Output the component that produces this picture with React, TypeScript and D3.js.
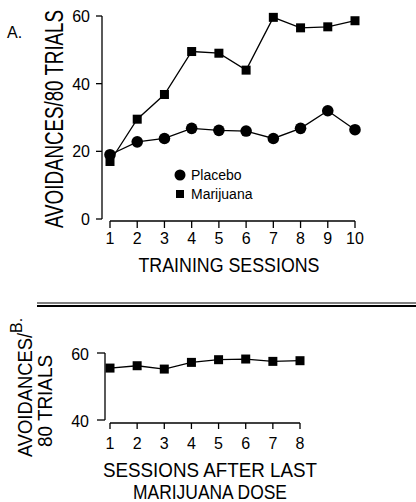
import * as d3 from "d3";

const sessionsA = [1, 2, 3, 4, 5, 6, 7, 8, 9, 10];
const placebo = [19, 22.8, 23.8, 26.8, 26.2, 26, 23.8, 26.8, 32, 26.4];
const marijuana = [17, 29.5, 36.8, 49.5, 49, 44, 59.6, 56.5, 56.8, 58.6];
const yTicksA = [0, 20, 40, 60];

const sessionsB = [1, 2, 3, 4, 5, 6, 7, 8];
const afterDose = [55.5, 56.2, 55.2, 57.2, 58, 58.2, 57.5, 57.7];
const yTicksB = [40, 60];

const font = "'Liberation Sans', Arial, sans-serif";

const App = () => {
  const xA = d3.scaleLinear().domain([1, 10]).range([110, 355]);
  const yA = d3.scaleLinear().domain([0, 60]).range([219, 16]);
  const xB = d3.scaleLinear().domain([1, 8]).range([110, 300]);
  const yB = d3.scaleLinear().domain([40, 60]).range([420, 353]);

  const lineA = (vals: number[]) =>
    d3.line<number>().x((_, i) => xA(sessionsA[i])).y((d) => yA(d))(vals) || "";
  const lineB =
    d3.line<number>().x((_, i) => xB(sessionsB[i])).y((d) => yB(d))(afterDose) || "";

  const sq = 9;

  return (
    <svg width={416} height={502} style={{ position: "absolute", left: 0, top: 0 }} fontFamily={font}>
      <rect width={416} height={502} fill="white" />

      {/* panel A */}
      <text x={7} y={38} fontSize={16}>A.</text>
      <text
        transform="translate(63,119) rotate(-90) scale(1,1.4)"
        textAnchor="middle"
        fontSize={18}
        textLength={218}
        lengthAdjust="spacingAndGlyphs"
      >
        AVOIDANCES/80 TRIALS
      </text>

      <line x1={102} x2={102} y1={yA(60)} y2={yA(0)} stroke="black" strokeWidth={1.3} />
      {yTicksA.map((t) => (
        <g key={t}>
          <line x1={96} x2={102} y1={yA(t)} y2={yA(t)} stroke="black" strokeWidth={1.3} />
          <text x={90} y={yA(t) + 6} textAnchor="end" fontSize={16}>{t}</text>
        </g>
      ))}

      <line x1={xA(1)} x2={xA(10)} y1={221} y2={221} stroke="black" strokeWidth={1.3} />
      {sessionsA.map((s) => (
        <g key={s}>
          <line x1={xA(s)} x2={xA(s)} y1={221} y2={228} stroke="black" strokeWidth={1.3} />
          <text x={xA(s)} y={244} textAnchor="middle" fontSize={16}>{s}</text>
        </g>
      ))}
      <text x={229} y={272} textAnchor="middle" fontSize={20} textLength={181} lengthAdjust="spacingAndGlyphs">
        TRAINING SESSIONS
      </text>

      <path d={lineA(placebo)} fill="none" stroke="black" strokeWidth={1.3} />
      <path d={lineA(marijuana)} fill="none" stroke="black" strokeWidth={1.3} />
      {placebo.map((v, i) => (
        <circle key={"p" + i} cx={xA(sessionsA[i])} cy={yA(v)} r={5.8} fill="black" />
      ))}
      {marijuana.map((v, i) => (
        <rect key={"m" + i} x={xA(sessionsA[i]) - sq / 2} y={yA(v) - sq / 2} width={sq} height={sq} fill="black" />
      ))}

      <circle cx={180} cy={175} r={5.5} fill="black" />
      <text x={191} y={180} fontSize={14}>Placebo</text>
      <rect x={176} y={190} width={8} height={8} fill="black" />
      <text x={191} y={199} fontSize={14}>Marijuana</text>

      {/* separator */}
      <line x1={37} x2={416} y1={303} y2={303} stroke="black" strokeWidth={1} />
      <line x1={37} x2={416} y1={306} y2={306} stroke="black" strokeWidth={2} />

      {/* panel B */}
      <text transform="translate(22,333) rotate(-90)" fontSize={16}>B.</text>
      <text
        transform="translate(32,395) rotate(-90)"
        textAnchor="middle"
        fontSize={21}
        textLength={124}
        lengthAdjust="spacingAndGlyphs"
      >
        AVOIDANCES/
      </text>
      <text
        transform="translate(52,401) rotate(-90)"
        textAnchor="middle"
        fontSize={21}
        textLength={92}
        lengthAdjust="spacingAndGlyphs"
      >
        80 TRIALS
      </text>

      <line x1={105} x2={105} y1={yB(60)} y2={yB(40)} stroke="black" strokeWidth={1.3} />
      {yTicksB.map((t) => (
        <g key={t}>
          <line x1={97} x2={105} y1={yB(t)} y2={yB(t)} stroke="black" strokeWidth={1.3} />
          <text x={89} y={yB(t) + 7} textAnchor="end" fontSize={16}>{t}</text>
        </g>
      ))}

      <line x1={xB(1)} x2={xB(8)} y1={423} y2={423} stroke="black" strokeWidth={1.3} />
      {sessionsB.map((s) => (
        <g key={s}>
          <line x1={xB(s)} x2={xB(s)} y1={423} y2={429} stroke="black" strokeWidth={1.3} />
          <text x={xB(s)} y={449} textAnchor="middle" fontSize={16}>{s}</text>
        </g>
      ))}

      <path d={lineB} fill="none" stroke="black" strokeWidth={1.3} />
      {afterDose.map((v, i) => (
        <rect key={"b" + i} x={xB(sessionsB[i]) - sq / 2} y={yB(v) - sq / 2} width={sq} height={sq} fill="black" />
      ))}

      <text x={210} y={477} textAnchor="middle" fontSize={21} textLength={214} lengthAdjust="spacingAndGlyphs">
        SESSIONS AFTER LAST
      </text>
      <text x={210} y={499} textAnchor="middle" fontSize={20} textLength={154} lengthAdjust="spacingAndGlyphs">
        MARIJUANA DOSE
      </text>
    </svg>
  );
};

export default App;
